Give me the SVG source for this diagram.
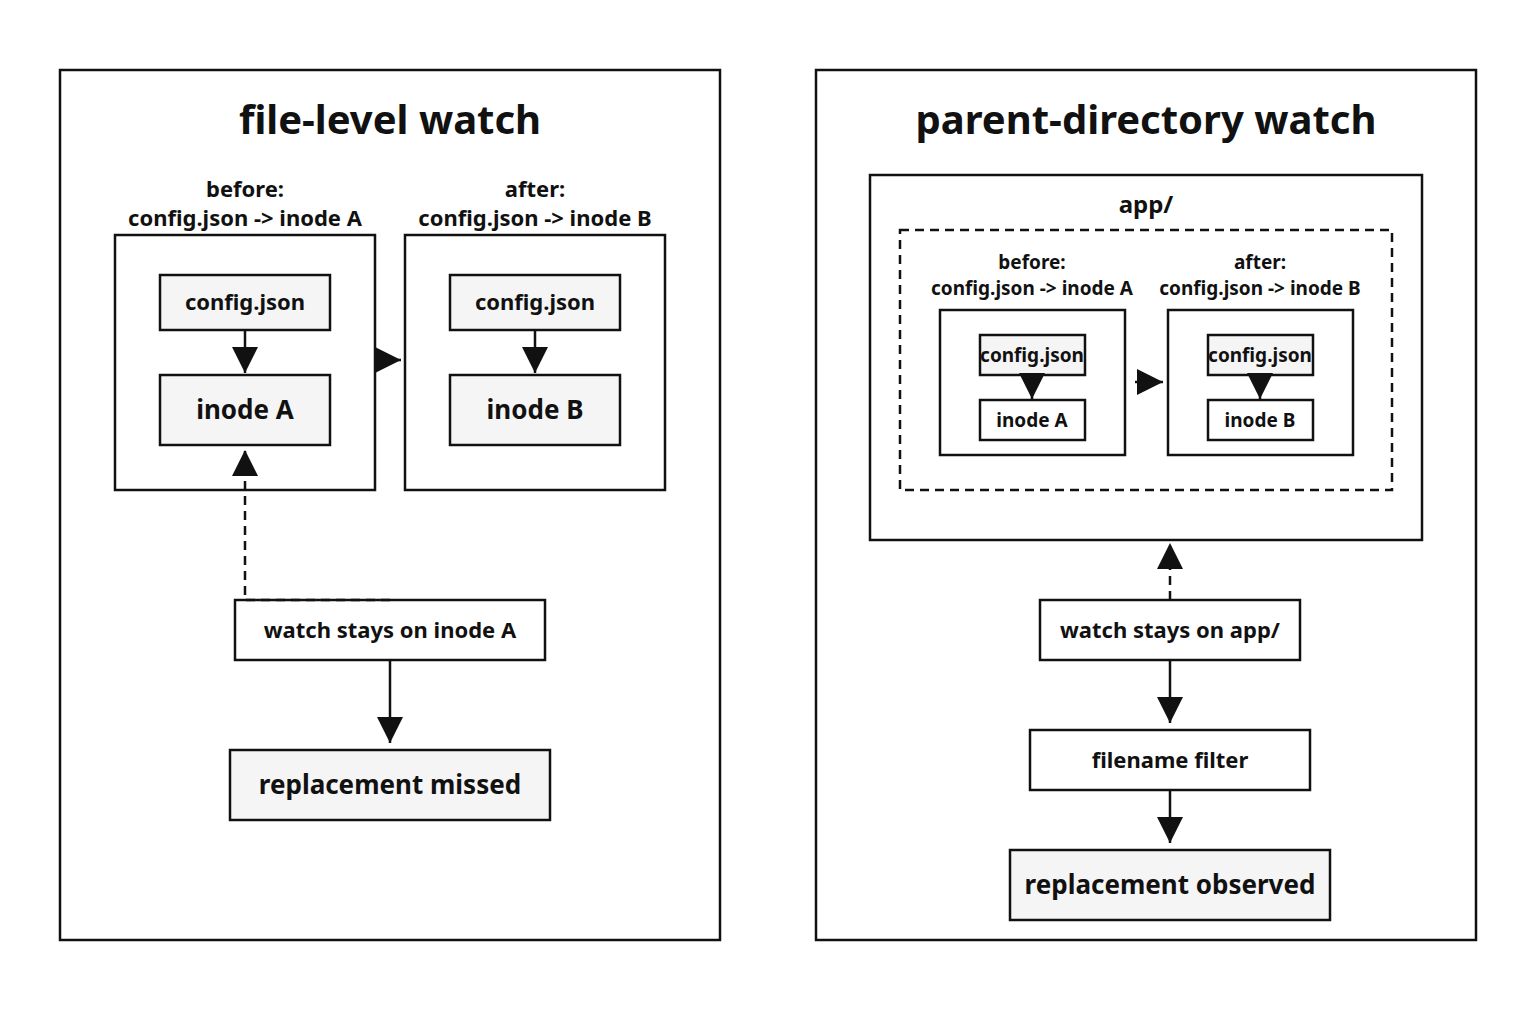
<svg xmlns="http://www.w3.org/2000/svg" width="1536" height="1024" viewBox="0 0 1536 1024">
<style>
text{font-family:"Noto Sans","Open Sans",sans-serif;font-weight:bold;fill:#111;text-anchor:middle}
.panel{fill:#fff;stroke:#111;stroke-width:2.5}
.box{fill:#fff;stroke:#111;stroke-width:2.5}
.node{fill:#f5f5f5;stroke:#111;stroke-width:2.5}
.ln{stroke:#111;stroke-width:2.5;fill:none}
.dash{stroke-dasharray:9 6}
.t{font-size:40px}.m{font-size:22px}.l{font-size:26px}.s{font-size:19px}
</style>
<defs>
<marker id="a" markerUnits="userSpaceOnUse" markerWidth="26" markerHeight="26" viewBox="0 0 26 26" refX="26" refY="13" orient="auto"><path d="M0,0L26,13L0,26z" fill="#111"/></marker>
</defs>
<rect width="1536" height="1024" fill="#fff"/>
<g id="left">
<rect class="panel" x="60" y="70" width="660" height="870"/>
<text class="t" x="390" y="134">file-level watch</text>
</g>
<g id="before1">
<rect class="box" x="115" y="235" width="260" height="255"/>
<text class="m" x="245" y="197">before:</text>
<text class="m" x="245" y="226">config.json -&gt; inode A</text>
</g>
<g id="cfg1"><rect class="node" x="160" y="275" width="170" height="55"/><text class="m" x="245" y="310">config.json</text></g>
<g id="inodeA1"><rect class="node" x="160" y="375" width="170" height="70"/><text class="l" x="245" y="419">inode A</text></g>
<g id="after1">
<rect class="box" x="405" y="235" width="260" height="255"/>
<text class="m" x="535" y="197">after:</text>
<text class="m" x="535" y="226">config.json -&gt; inode B</text>
</g>
<g id="cfg2"><rect class="node" x="450" y="275" width="170" height="55"/><text class="m" x="535" y="310">config.json</text></g>
<g id="inodeB1"><rect class="node" x="450" y="375" width="170" height="70"/><text class="l" x="535" y="419">inode B</text></g>
<g id="watch1"><rect class="box" x="235" y="600" width="310" height="60"/><text class="m" x="390" y="638">watch stays on inode A</text></g>
<g id="missed"><rect class="node" x="230" y="750" width="320" height="70"/><text class="l" x="390" y="794">replacement missed</text></g>

<g id="right">
<rect class="panel" x="816" y="70" width="660" height="870"/>
<text class="t" x="1146" y="134">parent-directory watch</text>
</g>
<g id="app">
<rect class="box" x="870" y="175" width="552" height="365"/>
<text class="l" x="1146" y="213" style="font-size:24px">app/</text>
<rect class="ln dash" x="900" y="230" width="492" height="260"/>
</g>
<g id="before2">
<rect class="box" x="940" y="310" width="185" height="145"/>
<text class="s" x="1032" y="269">before:</text>
<text class="s" x="1032" y="295">config.json -&gt; inode A</text>
</g>
<g id="cfg3"><rect class="node" x="980" y="335" width="105" height="40"/><text class="s" x="1032" y="362">config.json</text></g>
<g id="inodeA2"><rect class="box" x="980" y="400" width="105" height="40"/><text class="s" x="1032" y="427">inode A</text></g>
<g id="after2">
<rect class="box" x="1168" y="310" width="185" height="145"/>
<text class="s" x="1260" y="269">after:</text>
<text class="s" x="1260" y="295">config.json -&gt; inode B</text>
</g>
<g id="cfg4"><rect class="node" x="1208" y="335" width="105" height="40"/><text class="s" x="1260" y="362">config.json</text></g>
<g id="inodeB2"><rect class="box" x="1208" y="400" width="105" height="40"/><text class="s" x="1260" y="427">inode B</text></g>
<g id="watch2"><rect class="box" x="1040" y="600" width="260" height="60"/><text class="m" x="1170" y="638">watch stays on app/</text></g>
<g id="filter"><rect class="box" x="1030" y="730" width="280" height="60"/><text class="m" x="1170" y="768">filename filter</text></g>
<g id="observed"><rect class="node" x="1010" y="850" width="320" height="70"/><text class="l" x="1170" y="894">replacement observed</text></g>

<g id="connectors">
<line class="ln" x1="245" y1="330" x2="245" y2="373" marker-end="url(#a)"/>
<line class="ln" x1="535" y1="330" x2="535" y2="373" marker-end="url(#a)"/>
<line class="ln" x1="375" y1="360" x2="401" y2="360" marker-end="url(#a)"/>
<polyline class="ln dash" points="390,600 245,600 245,450" marker-end="url(#a)"/>
<line class="ln" x1="390" y1="660" x2="390" y2="743" marker-end="url(#a)"/>
<line class="ln" x1="1032" y1="375" x2="1032" y2="399" marker-end="url(#a)"/>
<line class="ln" x1="1260" y1="375" x2="1260" y2="399" marker-end="url(#a)"/>
<line class="ln" x1="1135" y1="382" x2="1163" y2="382" marker-end="url(#a)"/>
<line class="ln dash" x1="1170" y1="600" x2="1170" y2="543" marker-end="url(#a)"/>
<line class="ln" x1="1170" y1="660" x2="1170" y2="723" marker-end="url(#a)"/>
<line class="ln" x1="1170" y1="790" x2="1170" y2="843" marker-end="url(#a)"/>
</g>
</svg>
